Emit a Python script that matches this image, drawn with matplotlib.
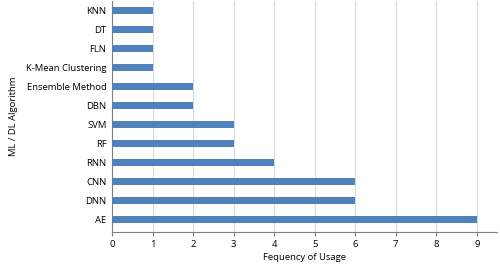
import matplotlib
matplotlib.use("Agg")
import matplotlib.pyplot as plt

algorithms = ['AE', 'DNN', 'CNN', 'RNN', 'RF', 'SVM', 'DBN', 'Ensemble Method',
              'K-Mean Clustering', 'FLN', 'DT', 'KNN']
usage = [9, 6, 6, 4, 3, 3, 2, 2, 1, 1, 1, 1]

plt.rcParams['font.family'] = ['Open Sans', 'DejaVu Sans']

fig = plt.figure(figsize=(5.0, 2.65), dpi=100)
ax = fig.add_axes([0.224, 0.125, 0.77, 0.871])

pos = list(range(len(algorithms)))
ax.barh(pos, usage, height=0.4, color='#4F81BD', zorder=3)

ax.set_xlim(0, 9.5)
ax.set_ylim(-0.65, 11.5)
ax.set_xticks(range(0, 10))
ax.set_yticks(pos)
ax.set_yticklabels(algorithms)
ax.tick_params(axis='both', labelsize=6.8, colors='black')
ax.tick_params(axis='y', length=0, pad=4)
ax.tick_params(axis='x', length=3, direction='out', color='#808080', pad=3)
ax.grid(axis='x', color='#D9D9D9', linewidth=0.8, zorder=0)

for s in ['top', 'right']:
    ax.spines[s].set_visible(False)
ax.spines['left'].set_color('#808080')
ax.spines['bottom'].set_color('#808080')

ax.set_xlabel('Fequency of Usage', fontsize=6.8, labelpad=3)
ax.set_ylabel('ML / DL Algorithm', fontsize=6.8, labelpad=6)

fig.savefig('out.png', dpi=100)
